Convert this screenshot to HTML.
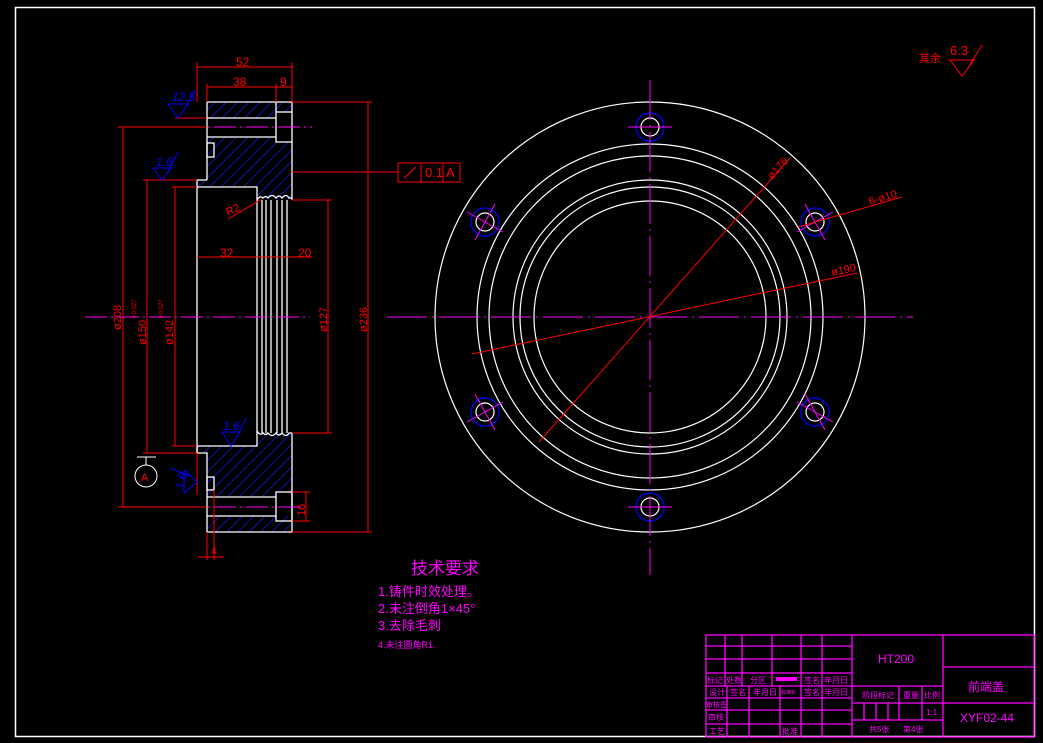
<!DOCTYPE html>
<html><head><meta charset="utf-8"><style>
html,body{margin:0;padding:0;background:#000;}
svg{display:block}
text{font-family:"Liberation Sans","Noto Sans CJK SC",sans-serif;}
</style></head><body>
<svg width="1043" height="743" viewBox="0 0 1043 743" xmlns="http://www.w3.org/2000/svg">
<defs>
<pattern id="h" patternUnits="userSpaceOnUse" width="8" height="8" patternTransform="rotate(45)">
<line x1="0" y1="0" x2="0" y2="8" stroke="#1a1aff" stroke-width="1.3"/>
</pattern>
</defs>
<rect width="1043" height="743" fill="#000"/>
<rect x="15.5" y="7.5" width="1019" height="729" fill="none" stroke="#fff" stroke-width="1.5"/>

<g fill="url(#h)" stroke="none">
<rect x="207" y="102" width="69" height="16"/>
<rect x="276" y="102" width="16" height="10"/>
<polygon points="207,137 276,137 276,142 292,142 292,200 257,198 257,187 197,187 197,180 207,180"/>
<polygon points="197,446 257,446 257,433 292,433 292,492 276,492 276,497 207,497 207,453 197,453"/>
<rect x="207" y="516" width="85" height="16"/>
</g>
<g fill="none" stroke="#fff" stroke-width="1.3">
<polyline points="207,102 292,102 292,200"/>
<line x1="207" y1="102" x2="207" y2="180"/>
<line x1="207" y1="118" x2="276" y2="118"/>
<line x1="207" y1="137" x2="276" y2="137"/>
<polyline points="276,102 276,142 292,142"/>
<line x1="276" y1="112" x2="292" y2="112"/>
<rect x="207" y="143" width="7" height="14"/>
<polyline points="207,180 197,180 197,187 257,187 257,200"/>
<path d="M257,200 q3,-5 6,-2 q3,-3 5,0 q4,-5 8,0 q3,-4 6,0 q4,-5 7,0 l3,0"/>
<path d="M257,431 q3,5 6,2 q3,3 5,0 q4,5 8,0 q3,4 6,0 q4,5 7,0 l3,0"/>
<line x1="197" y1="187" x2="197" y2="453"/>
<line x1="257" y1="200" x2="257" y2="433"/>
<line x1="262" y1="200" x2="262" y2="433"/>
<line x1="266" y1="200" x2="266" y2="433"/>
<line x1="271" y1="200" x2="271" y2="433"/>
<line x1="277" y1="200" x2="277" y2="433"/>
<line x1="282" y1="200" x2="282" y2="433"/>
<line x1="287" y1="200" x2="287" y2="433"/>
<polyline points="292,433 292,532 207,532 207,453 197,453 197,446 257,446 257,433"/>
<rect x="207" y="477" width="7" height="13"/>
<line x1="207" y1="497" x2="276" y2="497"/>
<line x1="207" y1="516" x2="276" y2="516"/>
<rect x="276" y="492" width="16" height="29"/>
</g>
<g stroke="#ff00ff" stroke-width="1" stroke-dasharray="22,4,2,4">
<line x1="85" y1="317" x2="310" y2="317"/>
<line x1="182" y1="127" x2="312" y2="127"/>
<line x1="182" y1="507" x2="300" y2="507"/>
</g>

<g stroke="#ff0000" stroke-width="1" fill="none">
<line x1="197" y1="62" x2="197" y2="102"/><line x1="292" y1="62" x2="292" y2="102"/>
<line x1="197" y1="67" x2="292" y2="67"/>
<line x1="207" y1="84" x2="207" y2="102"/><line x1="276" y1="84" x2="276" y2="102"/>
<line x1="207" y1="87" x2="292" y2="87"/>
<line x1="292" y1="102" x2="372" y2="102"/><line x1="292" y1="532" x2="372" y2="532"/>
<line x1="368" y1="102" x2="368" y2="532"/>
<line x1="118" y1="127" x2="207" y2="127"/><line x1="118" y1="507" x2="207" y2="507"/>
<line x1="123" y1="127" x2="123" y2="507"/>
<line x1="143" y1="180" x2="197" y2="180"/><line x1="143" y1="453" x2="197" y2="453"/>
<line x1="147" y1="180" x2="147" y2="453"/>
<line x1="172" y1="187" x2="197" y2="187"/><line x1="172" y1="446" x2="197" y2="446"/>
<line x1="175" y1="187" x2="175" y2="446"/>
<line x1="292" y1="200" x2="332" y2="200"/><line x1="292" y1="433" x2="332" y2="433"/>
<line x1="328" y1="200" x2="328" y2="433"/>
<line x1="197" y1="257" x2="257" y2="257"/><line x1="257" y1="257" x2="312" y2="257"/>
<line x1="228" y1="219" x2="262" y2="199"/>
<line x1="292" y1="172" x2="398" y2="172"/>
<rect x="398" y="163" width="62" height="19"/>
<line x1="421" y1="163" x2="421" y2="182"/><line x1="443" y1="163" x2="443" y2="182"/>
<line x1="404" y1="178" x2="416" y2="167"/>
<line x1="292" y1="492" x2="310" y2="492"/><line x1="292" y1="521" x2="310" y2="521"/>
<line x1="306" y1="492" x2="306" y2="521"/>
<line x1="207" y1="532" x2="207" y2="560"/><line x1="214" y1="490" x2="214" y2="560"/>
<line x1="198" y1="557" x2="224" y2="557"/>
<line x1="197" y1="453" x2="197" y2="495"/>
<line x1="175" y1="118" x2="207" y2="118"/>
</g>
<g fill="#ff0000" font-size="12">
<text x="236" y="66">52</text>
<text x="233" y="86">38</text>
<text x="280" y="86">9</text>
<text x="220" y="257">32</text>
<text x="298" y="257">20</text>
<text x="425" y="177" font-size="13">0.1</text>
<text x="446" y="177" font-size="13">A</text>
<text x="228" y="216" font-size="11" transform="rotate(-25 228 216)">R2</text>
<text x="211" y="554" font-size="10">4</text>
<text transform="translate(121 330) rotate(-90)" font-size="11">ø208</text>
<text transform="translate(146 345) rotate(-90)" font-size="11">ø150</text>
<text transform="translate(136 318) rotate(-90)" font-size="6">+0.027</text>
<text transform="translate(173 345) rotate(-90)" font-size="11">ø142</text>
<text transform="translate(163 318) rotate(-90)" font-size="6">+0.027</text>
<text transform="translate(327 332) rotate(-90)" font-size="11">ø127</text>
<text transform="translate(367 332) rotate(-90)" font-size="11">ø236</text>
<text transform="translate(305 516) rotate(-90)" font-size="11">16</text>
<text x="919" y="62" font-size="11">其余</text>
<text x="950" y="55" font-size="13">6.3</text>
</g>
<polyline points="948,60 974,60 962,76 950,60" fill="none" stroke="#f00"/>
<line x1="968" y1="68" x2="982" y2="45" stroke="#f00"/>
<g stroke="#fff" fill="none"><circle cx="146" cy="476" r="11"/><line x1="146" y1="465" x2="146" y2="457"/><line x1="137" y1="457" x2="156" y2="457"/></g>
<text x="141" y="481" fill="#f00" font-size="11">A</text>
<g stroke="#0000ff" fill="none">
<polyline points="168,104 178,118 188,104 168,104"/><line x1="184" y1="110" x2="195" y2="90"/>
<polyline points="153,168 162,180 171,168 153,168"/><line x1="167" y1="174" x2="178" y2="152"/>
<polyline points="222,432 231,446 240,432 222,432"/><line x1="236" y1="439" x2="246" y2="418"/>
<polyline points="184,470 197,482 184,493 184,470"/><line x1="190" y1="476" x2="170" y2="468"/>
</g>
<g fill="#0000ff" font-style="italic" font-size="12">
<text x="172" y="101">12.5</text><text x="156" y="166">1.6</text><text x="223" y="430">1.6</text>
<text transform="translate(184 490) rotate(-80)">1.6</text>
</g>

<g fill="none" stroke="#fff" stroke-width="1.2">
<circle cx="650" cy="317" r="215"/><circle cx="650" cy="317" r="173"/><circle cx="650" cy="317" r="161"/>
<circle cx="650" cy="317" r="137"/><circle cx="650" cy="317" r="130"/><circle cx="650" cy="317" r="116"/>
<circle cx="650" cy="127" r="9"/><circle cx="650" cy="507" r="9"/>
<circle cx="485" cy="222" r="9"/><circle cx="815" cy="222" r="9"/>
<circle cx="485" cy="412" r="9"/><circle cx="815" cy="412" r="9"/>
</g>
<g fill="none" stroke="#0000ff" stroke-width="1.2">
<circle cx="650" cy="127" r="14"/><circle cx="650" cy="507" r="14"/>
<circle cx="485" cy="222" r="14"/><circle cx="815" cy="222" r="14"/>
<circle cx="485" cy="412" r="14"/><circle cx="815" cy="412" r="14"/>
</g>
<g stroke="#ff00ff" stroke-width="1">
<line x1="650" y1="80" x2="650" y2="575" stroke-dasharray="40,5,2,5"/>
<line x1="387" y1="317" x2="913" y2="317" stroke-dasharray="40,5,2,5"/>
<line x1="628" y1="127" x2="672" y2="127"/><line x1="628" y1="507" x2="672" y2="507"/>
<line x1="467" y1="212" x2="503" y2="232"/><line x1="495" y1="204" x2="475" y2="240"/>
<line x1="797" y1="232" x2="833" y2="212"/><line x1="805" y1="204" x2="825" y2="240"/>
<line x1="467" y1="422" x2="503" y2="402"/><line x1="475" y1="394" x2="495" y2="430"/>
<line x1="797" y1="402" x2="833" y2="422"/><line x1="805" y1="394" x2="825" y2="430"/>
</g>
<g stroke="#ff0000" stroke-width="1">
<line x1="539" y1="442" x2="790" y2="158"/>
<line x1="472" y1="354" x2="857" y2="273"/>
<line x1="798" y1="227" x2="902" y2="197"/>
</g>
<g fill="#ff0000" font-size="11">
<text transform="translate(772 180) rotate(-48)">ø176</text>
<text transform="translate(870 205) rotate(-16)">6-ø10</text>
<text transform="translate(832 276) rotate(-12)">ø190</text>
</g>

<g fill="#ff00ff">
<text x="411" y="574" font-size="17" font-family="Noto Serif CJK SC,serif">技术要求</text>
<text x="378" y="596" font-size="13">1.铸件时效处理。</text>
<text x="378" y="613" font-size="13">2.未注倒角1×45°</text>
<text x="378" y="630" font-size="13">3.去除毛刺</text>
<text x="378" y="648" font-size="9">4.未注圆角R1.</text>
</g>

<g stroke="#ff00ff" stroke-width="1.3" fill="none">
<rect x="706" y="635" width="328" height="102"/>
<line x1="706" y1="646" x2="852" y2="646"/><line x1="706" y1="659" x2="852" y2="659"/>
<line x1="706" y1="673" x2="852" y2="673"/><line x1="706" y1="686" x2="943" y2="686"/>
<line x1="706" y1="698" x2="852" y2="698"/><line x1="706" y1="710" x2="852" y2="710"/>
<line x1="706" y1="724" x2="852" y2="724"/>
<line x1="725" y1="635" x2="725" y2="686"/><line x1="742" y1="635" x2="742" y2="686"/>
<line x1="772" y1="635" x2="772" y2="686"/><line x1="801" y1="635" x2="801" y2="737"/>
<line x1="822" y1="635" x2="822" y2="737"/><line x1="852" y1="635" x2="852" y2="737"/>
<line x1="727" y1="686" x2="727" y2="737"/><line x1="749" y1="686" x2="749" y2="737"/>
<line x1="780" y1="686" x2="780" y2="737"/>
<line x1="943" y1="635" x2="943" y2="737"/>
<line x1="852" y1="703" x2="943" y2="703"/><line x1="852" y1="720" x2="943" y2="720"/>
<line x1="899" y1="686" x2="899" y2="720"/><line x1="922" y1="686" x2="922" y2="720"/>
<line x1="864" y1="703" x2="864" y2="720"/><line x1="876" y1="703" x2="876" y2="720"/><line x1="888" y1="703" x2="888" y2="720"/>
<line x1="943" y1="667" x2="1034" y2="667"/><line x1="943" y1="703" x2="1034" y2="703"/>
</g>
<rect x="776" y="677" width="21" height="4" fill="#ff00ff"/>
<g fill="#ff00ff" font-size="8">
<text x="707" y="683">标记</text><text x="726" y="683">处数</text><text x="750" y="683">分区</text>
<text x="804" y="683">签名</text><text x="824" y="683">年月日</text>
<text x="709" y="695">设计</text><text x="730" y="695">签名</text><text x="753" y="695">年月日</text>
<text x="781" y="694" font-size="5">标准化</text><text x="804" y="695">签名</text><text x="824" y="695">年月日</text>
<text x="706" y="707" font-size="7">审核签</text><text x="708" y="720">审核</text><text x="709" y="734">工艺</text>
<text x="782" y="734">批准</text>
<text x="862" y="698">阶段标记</text><text x="903" y="698">重量</text><text x="924" y="698">比例</text>
<text x="926" y="715">1:1</text>
<text x="869" y="732">共5张</text><text x="903" y="732">第4张</text>
<text x="878" y="663" font-size="12">HT200</text>
<text x="968" y="691" font-size="12">前端盖</text>
<text x="960" y="722" font-size="12">XYF02-44</text>
</g>
</svg>
</body></html>
